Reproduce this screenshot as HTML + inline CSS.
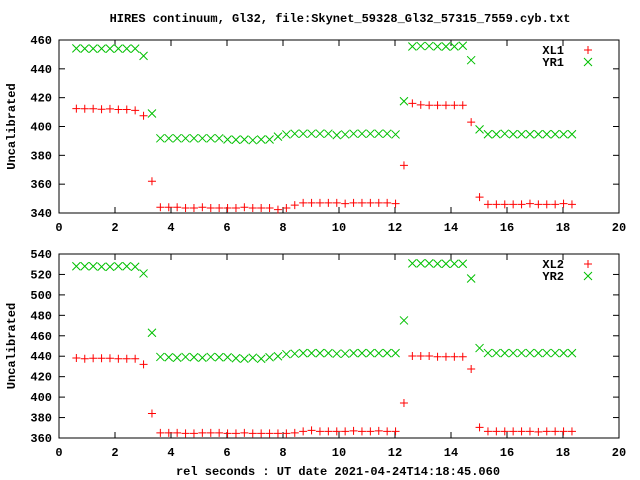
<!DOCTYPE html>
<html><head><meta charset="utf-8"><style>
html,body{margin:0;padding:0;background:#fff;}
svg{display:block;font-family:"Liberation Mono",monospace;font-weight:bold;font-size:12px;}
</style></head><body>
<svg id="chart" width="640" height="480" viewBox="0 0 640 480" xmlns="http://www.w3.org/2000/svg">
<text x="340" y="22" text-anchor="middle">HIRES continuum, Gl32, file:Skynet_59328_Gl32_57315_7559.cyb.txt</text>
<text x="338" y="475" text-anchor="middle">rel seconds : UT date 2021-04-24T14:18:45.060</text>
<g id="p1"></g>
<g id="p2"></g>
</svg>
<script>
const times=[0.62,0.92,1.22,1.52,1.82,2.12,2.42,2.72,3.02,3.32,3.62,3.92,4.22,4.52,4.82,5.12,5.42,5.72,6.02,6.32,6.62,6.92,7.22,7.52,7.82,8.12,8.42,8.72,9.02,9.32,9.62,9.92,10.22,10.52,10.82,11.12,11.42,11.72,12.02,12.32,12.62,12.92,13.22,13.52,13.82,14.12,14.42,14.72,15.02,15.32,15.62,15.92,16.22,16.52,16.82,17.12,17.42,17.72,18.02,18.32];
const xl1=[412.4,412.3,412.3,412,412.2,411.8,411.8,411.2,407.5,362,344,344,344,343.5,343.5,344,343.5,343.5,343.5,343.5,344,343.5,343.5,343.5,342.3,343.5,345.5,347,347,347,347,347,346.5,347,347,347,347,347,346.5,373,416,415,414.7,414.7,414.7,414.7,414.7,403,351,346,346,346,346,346,346.5,346,346,346,346.5,346];
const yr1=[454.2,454,454,454,454,454,454,454,449,409,391.8,391.8,391.8,391.8,391.8,391.8,391.8,391.8,391,390.8,391,390.5,391,391,393,394.5,395,395,395,395,395,394,394.5,395,395,395,395,395,394.5,417.5,455.5,455.8,455.8,455.5,455.5,455.5,456,446,398,394.6,394.6,395,394.6,394.6,394.6,394.6,394.6,394.6,394.6,394.6];
const xl2=[438.3,437.5,438,438,438,437.5,437.5,437.5,432,384,365,365,365,364.5,364.5,365,365,365,364.5,364.5,365,364.5,364.5,364.5,364.5,364.5,365,366.5,367.5,366.5,366.5,366.5,366.5,367,366.5,366.5,367,366.5,366.5,394.2,440.2,440.2,440.2,439.5,439.5,439.5,439.5,427.5,370.4,366.5,366.5,366.5,366.5,366.5,366.5,366,366.5,366.5,366.5,366.5];
const yr2=[528,528,528,527.5,527.5,528,528,527.5,521,463,439.3,439,438.5,439.3,439,438.5,439.3,439,439,438,437.5,438.5,437.5,439,440,442,442.5,443,443,443,443,442.5,442.5,443,443,443,443,443,443,475,530.8,530.8,530.8,530.5,530.5,530.5,530.5,516,448,443.1,443.1,443,443.1,443.1,443.1,443,443.1,443.1,443,443];
const xTicks=[0,2,4,6,8,10,12,14,16,18,20];
const yTicks1=[340,360,380,400,420,440,460];
const yTicks2=[360,380,400,420,440,460,480,500,520,540];
const NS="http://www.w3.org/2000/svg";
function mk(parent,tag,attrs){const e=document.createElementNS(NS,tag);for(const k in attrs)e.setAttribute(k,attrs[k]);parent.appendChild(e);return e;}
function panel(g,top,bottom,ymin,ymax,yTicks,s1,s2,n1,n2){
  const L=59,R=619;
  const sx=v=>L+(v-0)/(20-0)*(R-L);
  const sy=v=>bottom-(v-ymin)/(ymax-ymin)*(bottom-top);
  const frame=mk(g,'rect',{x:L,y:top,width:R-L,height:bottom-top,fill:'none',stroke:'#000','stroke-width':1});
  
  
  xTicks.forEach(t=>{
    const x=sx(t);
    mk(g,'line',{x1:x,y1:bottom,x2:x,y2:bottom-6,stroke:'#000'});
    mk(g,'line',{x1:x,y1:top,x2:x,y2:top+6,stroke:'#000'});
    const tx=mk(g,'text',{x:x,y:bottom+18,'text-anchor':'middle'});
    tx.textContent=t;
    
    
  });
  yTicks.forEach(t=>{
    const y=sy(t);
    mk(g,'line',{x1:L,y1:y,x2:L+6,y2:y,stroke:'#000'});
    mk(g,'line',{x1:R,y1:y,x2:R-6,y2:y,stroke:'#000'});
    const tx=mk(g,'text',{x:52,y:y+4,'text-anchor':'end'});
    tx.textContent=t;
    
    
  });
  const yl=mk(g,'text',{x:15,y:(top+bottom)/2,'text-anchor':'middle',transform:`rotate(-90 15 ${(top+bottom)/2})`});
  yl.textContent='Uncalibrated';
  
  
  const plus=(p,x,y)=>mk(p,'path',{d:`M${x-4},${y}h8M${x},${y-4}v8`,stroke:'#ff0000','stroke-width':1,fill:'none'});
  const cross=(p,x,y)=>mk(p,'path',{d:`M${x-4},${y-4}l8,8M${x-4},${y+4}l8,-8`,stroke:'#00c000','stroke-width':1,fill:'none'});
  const g1=mk(g,'g',{});
  
  
  const g2=mk(g,'g',{});
  
  
  times.forEach((t,i)=>{plus(g1,sx(t),sy(s1[i]));cross(g2,sx(t),sy(s2[i]));});
  const lg=mk(g,'g',{});
  
  
  const a=mk(lg,'text',{x:564,y:top+14,'text-anchor':'end'});a.textContent=n1;
  
  
  plus(lg,588,top+10);
  const b=mk(lg,'text',{x:564,y:top+26,'text-anchor':'end'});b.textContent=n2;
  
  
  cross(lg,588,top+22);
}
panel(document.getElementById('p1'),40,213,340,460,yTicks1,xl1,yr1,'XL1','YR1');
panel(document.getElementById('p2'),254,438,360,540,yTicks2,xl2,yr2,'XL2','YR2');
</script>
</body></html>
